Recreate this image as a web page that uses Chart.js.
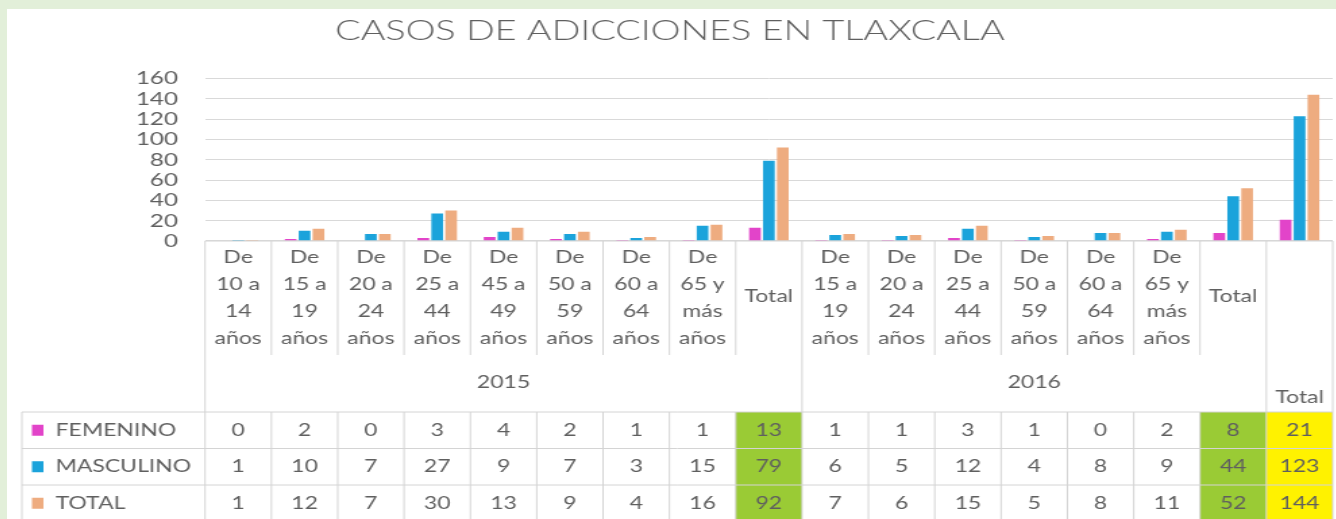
<!DOCTYPE html>
<html>
<head>
<meta charset="utf-8">
<script src="https://cdn.jsdelivr.net/npm/chart.js@4/dist/chart.umd.min.js"></script>
<style>
  html, body { margin: 0; padding: 0; width: 1336px; height: 519px; overflow: hidden; background: #e2efd9; }
  #panel { position: absolute; left: 7px; top: 9px; width: 1329px; height: 510px; background: #ffffff; overflow: hidden; }
  /* the source picture is stretched sideways, so the whole chart is too */
  #wrap { position: absolute; left: 0; top: 0; width: 984px; height: 510px; transform: scaleX(1.35); transform-origin: 0 0; }
</style>
</head>
<body>
<div id="panel"><div id="wrap"><canvas id="adiccionesChart"></canvas></div></div>
<script>
// categories (each one split in the lines it shows in the table header)
const categoryLines = [
    ['De', '10 a', '14', 'años'],
    ['De', '15 a', '19', 'años'],
    ['De', '20 a', '24', 'años'],
    ['De', '25 a', '44', 'años'],
    ['De', '45 a', '49', 'años'],
    ['De', '50 a', '59', 'años'],
    ['De', '60 a', '64', 'años'],
    ['De', '65 y', 'más', 'años'],
    ['Total'],
    ['De', '15 a', '19', 'años'],
    ['De', '20 a', '24', 'años'],
    ['De', '25 a', '44', 'años'],
    ['De', '50 a', '59', 'años'],
    ['De', '60 a', '64', 'años'],
    ['De', '65 y', 'más', 'años'],
    ['Total'],
    []
];
const groupNames = ['2015', '2016', 'Total'];
const groupStart = [0, 9, 16];
const groupEnd = [8, 15, 16];

const seriesNames = ['FEMENINO', 'MASCULINO', 'TOTAL'];
const femenino = [0, 2, 0, 3, 4, 2, 1, 1, 13, 1, 1, 3, 1, 0, 2, 8, 21];
const masculino = [1, 10, 7, 27, 9, 7, 3, 15, 79, 6, 5, 12, 4, 8, 9, 44, 123];
const total = [1, 12, 7, 30, 13, 9, 4, 16, 92, 7, 6, 15, 5, 8, 11, 52, 144];

const seriesColors = ['#e244c9', '#1ba3db', '#eeac80'];
const greenCols = [8, 15];
const yellowCols = [16];

const textColor = '#5f5f5f';
const lineColor = '#d4d4d4';
const font = 'Lato, "Open Sans", sans-serif';

// draws the category header and the data table under the plot
const tablePlugin = {
    id: 'dataTable',
    afterDraw(chart) {
        const c = chart.ctx;
        const xs = chart.scales.x;
        const area = chart.chartArea;
        const n = categoryLines.length;
        const w = xs.getPixelForValue(1) - xs.getPixelForValue(0);
        const edge = i => xs.getPixelForValue(i) - w / 2;

        const top = area.bottom;
        const sepBottom = top + 114;
        const tableTop = top + 171;
        const rowH = 36.5;
        const bottom = chart.height;
        const rowLeft = 11;
        const data = [femenino, masculino, total];

        c.save();

        // cell fills
        data.forEach((row, r) => {
            greenCols.forEach(i => {
                c.fillStyle = '#9acb35';
                c.fillRect(edge(i), tableTop + r * rowH, w, rowH);
            });
            yellowCols.forEach(i => {
                c.fillStyle = '#fff200';
                c.fillRect(edge(i), tableTop + r * rowH, w, rowH);
            });
        });

        // lines
        c.strokeStyle = lineColor;
        c.lineWidth = 1;
        c.beginPath();
        for (let i = 0; i <= n; i++) {
            const x = edge(i);
            const full = i === n || groupStart.includes(i);
            c.moveTo(x, top);
            c.lineTo(x, full ? bottom : sepBottom);
            if (!full) {
                c.moveTo(x, tableTop);
                c.lineTo(x, bottom);
            }
        }
        c.moveTo(rowLeft, tableTop);
        c.lineTo(rowLeft, bottom);
        for (let r = 0; r < 3; r++) {
            const y = tableTop + r * rowH;
            c.moveTo(rowLeft, y);
            c.lineTo(edge(n), y);
        }
        c.moveTo(area.left, top);
        c.lineTo(area.right, top);
        c.stroke();

        // category header
        c.fillStyle = textColor;
        c.textAlign = 'center';
        c.textBaseline = 'middle';
        c.font = '17px ' + font;
        categoryLines.forEach((lines, i) => {
            const x = xs.getPixelForValue(i);
            if (lines.length === 1) {
                c.fillText(lines[0], x, top + 56);
            } else {
                lines.forEach((t, k) => c.fillText(t, x, top + 17 + k * 27));
            }
        });

        // group (year) labels
        groupNames.forEach((g, k) => {
            const x = (edge(groupStart[k]) + edge(groupEnd[k] + 1)) / 2;
            const y = groupStart[k] === groupEnd[k] ? top + 157 : top + 142;
            c.fillText(g, x, y);
        });

        // data rows
        data.forEach((row, r) => {
            const y = tableTop + r * rowH + rowH / 2;
            c.fillStyle = seriesColors[r];
            c.fillRect(18.5, y - 5.5, 8.5, 11);
            c.fillStyle = textColor;
            c.textAlign = 'left';
            c.fillText(seriesNames[r], 36, y);
            c.textAlign = 'center';
            row.forEach((v, i) => c.fillText(String(v), xs.getPixelForValue(i), y));
        });

        c.restore();
    }
};

const ctx = document.getElementById('adiccionesChart').getContext('2d');
const chart = new Chart(ctx, {
    type: 'bar',
    data: {
        labels: categoryLines.map(l => l.join(' ') || 'Total'),
        datasets: [femenino, masculino, total].map((d, k) => ({
            label: seriesNames[k],
            data: d,
            backgroundColor: seriesColors[k],
            borderWidth: 0,
            categoryPercentage: 0.63,
            barPercentage: 0.84
        }))
    },
    options: {
        responsive: true,
        maintainAspectRatio: false,
        animation: false,
        events: [],
        layout: { padding: { left: 0, right: 2, top: 0, bottom: 0 } },
        scales: {
            x: {
                grid: { display: false },
                border: { display: false },
                ticks: { display: false },
                afterFit: scale => { scale.height = 278; }
            },
            y: {
                min: 0,
                max: 160,
                ticks: { stepSize: 20, autoSkip: false, color: textColor, padding: 20, font: { family: font, size: 18 } },
                grid: { color: '#d9d9d9', drawTicks: false },
                border: { display: false },
                afterFit: scale => { scale.width = 146.7; }
            }
        },
        plugins: {
            legend: { display: false },
            tooltip: { enabled: false },
            title: {
                display: true,
                text: 'CASOS DE ADICCIONES EN TLAXCALA',
                color: textColor,
                font: { family: font, size: 28, weight: '300' },
                padding: { top: 5, bottom: 31 }
            }
        }
    },
    plugins: [tablePlugin]
});
</script>
</body>
</html>
